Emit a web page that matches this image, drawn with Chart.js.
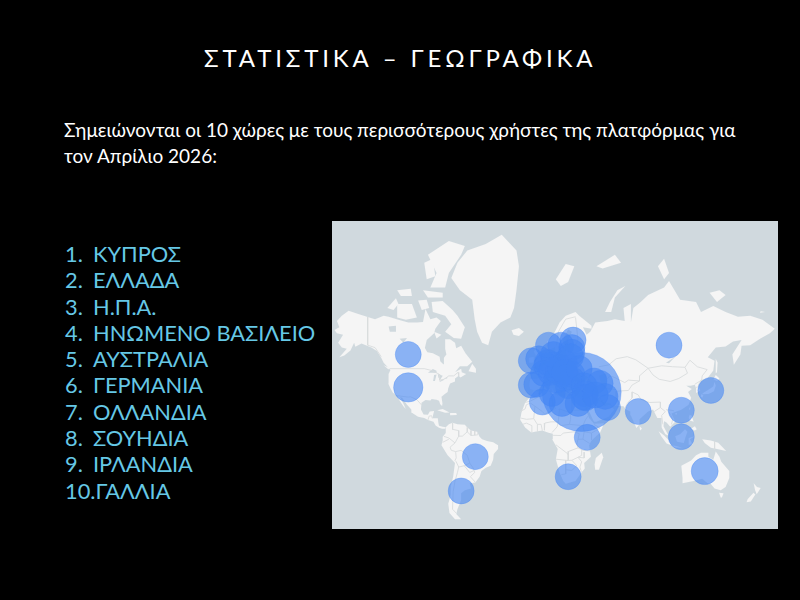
<!DOCTYPE html>
<html lang="el">
<head>
<meta charset="utf-8">
<title>Στατιστικά – Γεωγραφικά</title>
<script src="https://cdn.jsdelivr.net/npm/chart.js@4"></script>
<style>
  html, body { margin: 0; background: #000; }
  body { position: relative; width: 800px; height: 600px; overflow: hidden; font-family: Lato, "Open Sans", sans-serif; }
  #title { position: absolute; left: 204px; top: 43px; color: #fff; font-size: 24px; font-weight: 400; letter-spacing: 3.85px; line-height: 30px; white-space: nowrap; }
  #intro { position: absolute; left: 64px; top: 117px; width: 720px; color: #fff; font-size: 19px; line-height: 25.5px; white-space: nowrap; }
  #countries { position: absolute; left: 65px; top: 241px; color: #66c8e6; font-size: 21.8px; line-height: 26.3px; white-space: nowrap; }
  #countries span { display: inline-block; width: 28px; }
  #map { position: absolute; left: 332px; top: 221px; background: #d0d9de; }
</style>
</head>
<body>
<div id="title">ΣΤΑΤΙΣΤΙΚΑ – ΓΕΩΓΡΑΦΙΚΑ</div>
<div id="intro">Σημειώνονται οι 10 χώρες με τους περισσότερους χρήστες της πλατφόρμας για<br>τον Απρίλιο 2026:</div>
<div id="countries"></div>
<canvas id="map" width="446" height="308"></canvas>
<script>
const topCountries = ["ΚΥΠΡΟΣ", "ΕΛΛΑΔΑ", "Η.Π.Α.", "ΗΝΩΜΕΝΟ ΒΑΣΙΛΕΙΟ", "ΑΥΣΤΡΑΛΙΑ", "ΓΕΡΜΑΝΙΑ", "ΟΛΛΑΝΔΙΑ", "ΣΟΥΗΔΙΑ", "ΙΡΛΑΝΔΙΑ", "ΓΑΛΛΙΑ"];

// bubbles: lon, lat, size
const bubbleLon = [33, -108, -108, -53.5, -65, 104, 138, 114, 114, 79, 133, 37.5, 22, 54, -8, -8, -2, -3.5, 2, 4.5, 5.3, 10, 8, 12.5, 14, 15.5, 19, 10, 6, 16, 26, 25, 25, 24, 22, 25, 25, 21, 19, 31, 35, 43, 48, 35, 35.8, 36, 30, 1, 44, 9, 17, 52];
const bubbleLat = [35, 56, 38, -15, -39.5, 60, 36, 22, 1, 21, -26, 0.5, -30, 24, 53, 39.5, 54, 40, 46.5, 50.5, 52.2, 51, 47, 42.5, 47.5, 49.8, 52, 56, 60, 60, 62, 59, 57, 55, 39, 42.7, 45.9, 44, 47, 49, 39, 42, 40.5, 31.5, 33.8, 31, 27, 28, 33, 34, 27, 32];
const bubbleSize = [39.5, 13, 14.7, 13, 13, 13, 13, 13, 13, 13, 13.5, 13, 13, 13, 13, 13, 13, 13, 13, 13, 13, 13, 13, 13, 13, 13, 13, 13, 13, 13, 13, 13, 13, 13, 13, 13, 13, 13, 13, 13, 13, 13, 13, 13, 13, 13, 13, 13, 13, 13, 13, 13];

// coastlines [lon, lat]
const northAmerica = [[-168,65.6],[-164,66.5],[-166,68.5],[-162,70],[-156.5,71.3],[-148,70.4],[-141,69.6],[-135,69],[-128,70],[-124,69.7],[-116,68.8],[-108,68],[-101,68],[-96,68.2],[-94,71.8],[-90,69],[-85,69.5],[-81.5,68.5],[-86,66],[-87,64.5],[-93,62],[-94.5,58.8],[-92.5,57],[-88,56.5],[-82.5,55],[-82,52.8],[-79.5,51.3],[-79,54.5],[-77,56],[-78,58.5],[-78,62.3],[-74,62.3],[-70,61],[-69,58.7],[-65,59.8],[-61.5,56.5],[-56,52.5],[-60,50.2],[-66,50.2],[-70,47],[-65,49],[-64.5,47],[-61,46],[-65.5,44],[-67,45],[-70,43.5],[-70,41.7],[-74,40.5],[-75.5,37.5],[-76,35],[-78,33.8],[-81,31.8],[-80.2,27],[-80.5,25.2],[-82,26.5],[-83,29],[-85,29.7],[-89,30.2],[-90,29.2],[-94,29.5],[-97.2,27.5],[-97.7,22.5],[-95.5,18.7],[-92,18.6],[-90.5,21],[-87,21.5],[-88,17.5],[-88.5,15.8],[-84,15.8],[-83.5,12],[-83,9.8],[-80,9],[-77.5,8.7],[-78,7.5],[-80.5,7.5],[-83,8.3],[-85.8,10],[-87.5,13],[-92,14.5],[-95,16],[-100,17],[-105,20],[-105.5,22.5],[-109,26],[-113,31],[-114.7,31.5],[-112,27],[-110,23],[-112,25],[-115,29],[-117,32.5],[-120.5,34.5],[-122.5,37.5],[-124.3,40.5],[-124,46],[-122.5,48.3],[-125,50],[-128,52],[-130,54.5],[-133.5,57.5],[-138,59],[-146,60.7],[-151,59.3],[-152,61],[-155,57.8],[-160,55.5],[-164,54.7],[-158,58.5],[-162,59],[-165,61],[-161,64],[-166,64.5]];
const greenland = [[-73,78.2],[-68,80.5],[-60,82],[-45,82.7],[-32,83.6],[-20,82],[-18,80],[-20,76],[-22,72],[-25,69.5],[-33,68],[-40,65],[-43,60],[-48,61],[-52,65],[-54,69],[-56,74],[-66,76]];
const southAmerica = [[-77.5,8.7],[-75,11],[-72,12.2],[-68,11],[-62,10.7],[-60,8.5],[-57,6],[-52,5],[-50,1],[-48,-1],[-44,-2.5],[-39,-3.5],[-35,-6],[-35,-9],[-38.5,-13],[-39,-17.5],[-41,-22],[-45,-23.5],[-48.5,-26],[-50,-30],[-53.5,-34],[-58,-34.5],[-57,-38],[-62,-39],[-65,-41],[-65,-45],[-68,-50],[-69,-52.5],[-65,-55],[-70,-55],[-74.5,-52],[-75.5,-47],[-73.5,-42],[-73.5,-37],[-71.5,-30],[-70,-20],[-76,-14],[-81,-6],[-80,-2],[-80,1],[-77.5,4],[-77.5,7]];
const africa = [[-6,35.8],[-2,35],[3,36.8],[10,37.3],[11,33.5],[15,32.3],[20,31],[20,32.8],[25,31.7],[32,31],[34.2,28],[37,21],[39,16],[43,11.5],[51.2,11.8],[48,4.5],[41,-2],[39,-6],[40.5,-15],[35,-20],[35.5,-24],[32.8,-27],[28,-33],[20,-34.8],[18,-33],[15,-27],[12,-17],[13.5,-9],[9,-1],[9.5,3.5],[6,4.3],[1,6],[-4,5.2],[-8,4.5],[-13,8.5],[-17,14.7],[-16,20],[-13,27.5],[-9.5,31]];
const eurasia = [[-9,37],[-9.5,39],[-9,43],[-2,43.5],[-1,46],[-4.5,48.5],[2,51],[4,52],[8,54],[8.5,57],[10.5,57.5],[10,54.5],[14,54],[19,54.5],[21,57],[24,58],[23.5,59.3],[30,60],[23,60],[21.5,61.5],[25,65],[22,65.8],[17.5,62],[19,60],[16.5,57],[14,55.5],[12.5,56],[11,59],[6,58],[5,61.5],[10,64],[15,68],[20,70],[28,71],[31,70],[41,67],[41,66],[34,66.5],[37,64],[40,65],[44,68],[54,68.5],[60,69],[68,68.5],[67,72],[73,73],[73,68],[75,72],[81,73.5],[87,75],[100,76.5],[104,77.7],[113,74],[126,73.5],[130,71],[140,72.5],[150,71],[160,69.7],[170,70],[180,68.8],[190,66],[186,64.5],[178,62.5],[170,60],[163,59.8],[162,56],[156.7,51],[155.5,56],[163,62],[156,61.5],[150,59.5],[142,59],[135.5,54.7],[141,53],[140,48],[135,43.5],[130,42.5],[127.5,39.5],[129.5,36],[126.5,34.5],[126,37.5],[125,39.7],[121.5,39],[118,39],[122.5,37],[119.5,35],[122,31],[120,26],[114,22.3],[110,21],[106,19.5],[109,13],[105,9],[102,12.5],[100,13.5],[99.5,9.5],[103.5,2],[101,3],[98,8.5],[98,16],[94.5,16],[91,22.5],[87,21],[80,15],[80,11],[77.5,8],[73,18],[72.5,21],[69,22.5],[67,25],[57,25.5],[56.5,27],[51,28],[48,30],[51,25],[56,26],[59.5,22.5],[55,17],[45,13],[43,13],[39,21],[35,28],[34.5,31.5],[36,36.5],[30,36.3],[26.5,38.5],[26.5,40.5],[29,41],[35,42],[41.5,41.5],[37,45],[33,45],[30.5,46.5],[28,43],[26,40.7],[23,40.5],[23.5,37.8],[21.5,37],[19.5,41.5],[13,45.7],[18.5,40],[16,38],[12,42],[8,44.3],[3,43],[0,39.5],[-2,36.8],[-5.5,36]];
const australia = [[114,-22],[122,-18],[126,-14],[130,-12],[136,-12],[136,-15],[140,-17.5],[142,-11],[145,-15],[146.5,-19],[153,-26],[153,-31],[150,-37],[146,-39],[141,-38],[138,-35],[136,-35],[131,-31.5],[124,-33],[115,-34.5],[115,-31]];
const islands = [
  [[-80,73.7],[-72,71.5],[-68,70],[-62,66.5],[-65,62.5],[-71,62.8],[-78,65],[-73,67.5],[-78,70],[-88,71],[-89,73.5]],
  [[-117,73],[-105,73],[-101,69.5],[-110,68.8],[-117,69.5]],
  [[-90,76.5],[-78,76.5],[-75,79],[-65,81.5],[-62,82.5],[-75,83],[-92,81.5],[-85,79]],
  [[-125,72],[-118,74.3],[-116,73],[-120,71.5]],
  [[-96,76],[-80,75.5],[-80,74.5],[-92,74.5]],
  [[-95,80.5],[-88,81],[-86,78.5],[-93,78]],
  [[-117,76],[-106,76.3],[-105,74.8],[-114,74.8]],
  [[-100,73.8],[-93,74],[-91,72],[-97,71.5]],
  [[-87,65],[-81,64],[-85,62.6]],
  [[-59,47.6],[-53,46.8],[-53,49],[-56,51.5]],
  [[-128,50.8],[-124,48.5],[-123.5,49.5]],
  [[-84.5,22],[-80,23],[-74.5,20.3],[-78,20]],
  [[-74,19.9],[-69,19.8],[-68.5,18.3],[-74,18.2]],
  [[-24,65.5],[-18,66.3],[-14,65],[-18,63.5],[-22.5,64]],
  [[-5.5,50],[1.3,51.2],[0,53.5],[-2,56],[-3,58.5],[-6,57.5],[-3.2,54],[-5,52]],
  [[-10,52],[-6,52.2],[-6,55],[-10,54.3]],
  [[12,78],[20,80.3],[27,80],[22,77.5],[16,76.8]],
  [[52,71],[56,73.5],[62,76],[68.5,76.8],[60,74.5],[57,71]],
  [[95,80],[100,81],[104,79],[100,78]],
  [[45,80],[60,81.5],[65,80.5],[50,79.7]],
  [[137,75.5],[145,76],[150,75],[143,73.5]],
  [[178.5,71.2],[182,71],[178,70.8]],
  [[142,54],[143.5,52],[143,47],[142,46.5],[142,50]],
  [[140,43],[142,45.5],[145,43.5],[143,42]],
  [[131,34],[136,36.5],[140,38.5],[141,41.5],[142,39],[140.5,35.5],[136,33.7],[132,33.5]],
  [[130,33.5],[132,33],[131,31],[130,32]],
  [[120.2,23],[121.5,25.2],[121,22]],
  [[108.7,19.3],[110.5,20],[110,18.3]],
  [[120,16],[120.7,18.5],[122.3,18],[124,13],[121,14]],
  [[122,7.5],[125,9.5],[126.5,7],[125,6]],
  [[95.5,5.5],[100,2],[104,-2],[106,-6],[102,-4.5],[98,1]],
  [[106,-6],[110,-6.5],[114.5,-8],[108,-7.8]],
  [[109,1.5],[113,3],[117,7],[119,5],[117.5,1],[116,-4],[110.5,-3]],
  [[119.5,-5.5],[120,0],[125,1.5],[121,-1],[123,-5]],
  [[131,-1],[138,-2],[144,-3.8],[150.5,-10.5],[143,-9],[138,-8],[133,-4]],
  [[80,9.7],[82,7.5],[80.5,6]],
  [[144.7,-40.7],[148.3,-41],[147,-43.5],[146,-43.5]],
  [[172.8,-34.5],[175.5,-37],[178.5,-37.7],[175.3,-41.5],[174,-39]],
  [[172.7,-40.6],[174.2,-41.7],[170.5,-45.8],[167,-46.2],[168,-44.3]],
  [[49.3,-12],[50.5,-15.5],[47,-25],[44,-25],[43.5,-21],[44.5,-16]],
  [[12.5,38],[15.5,38.2],[15,36.7]],
  [[8.2,41],[9.7,41],[9.5,39],[8.5,39]],
  [[23.5,35.5],[26.3,35.2],[24,34.9]]
];
const waters = [
  [[-92,46.8],[-88,48.8],[-85,47.8],[-85,46.6],[-88,46.7]],
  [[-87.8,42],[-86.3,42],[-85,45.8],[-87,45.5]],
  [[-84,46],[-80,45],[-81.8,43],[-83.5,44]],
  [[-83,42],[-79,43],[-79,42.5],[-82,41.5]],
  [[-79.5,43.3],[-76,44],[-76.5,43.4]],
  [[-124,66.8],[-118,67],[-118,65],[-123,65]],
  [[-115,62.5],[-109,62.8],[-112,61]],
  [[47,45],[53,46.5],[53,41],[54,37],[50,37.3],[49,40.5]],
  [[101.5,52],[104,51.8],[110,55.5],[109,55]]
];
const borders = [
  [[-141,69.6],[-141,60],[-135,59],[-130,55]],
  [[-123,49],[-95,49],[-89,48],[-83,46],[-82.5,42.5],[-79,43],[-75,45],[-71,45],[-67.5,47],[-67,45]],
  [[-117,32.5],[-108,31.5],[-106,31.7],[-101,29.7],[-97.3,26]],
  [[-92,14.5],[-91,17.5],[-89,17.8],[-88.5,15.8]],
  [[-72,12],[-72,7],[-67,6],[-67,1.5]],
  [[-79,1.3],[-75,0],[-70,-4]],
  [[-80,-3.5],[-75,-1]],
  [[-60,5],[-64,1.5],[-67,1.5],[-70,-4],[-74,-7.5],[-73,-10],[-69.5,-11],[-65,-10],[-60,-14],[-58,-20],[-55,-24],[-54,-27],[-57.5,-30],[-53.5,-33.8]],
  [[-60,8.5],[-60,5],[-57,2],[-52,2.5],[-51.5,4.5]],
  [[-57,6],[-57,2]],
  [[-54,5.8],[-54,2.3]],
  [[-69.5,-11],[-69,-16],[-70,-18],[-69,-19],[-67,-23],[-68,-27],[-70,-33],[-71.5,-40],[-72,-50],[-69,-52]],
  [[-67,-23],[-62.5,-22],[-58,-20]],
  [[-62.5,-22],[-58,-27],[-54.5,-25.5]],
  [[-2,35],[-1.5,32],[-8.7,28.7],[-13,27.7]],
  [[-8.7,27.3],[-12,26],[-13,23],[-17,21]],
  [[-5,25],[-6,15.5],[-12,15],[-16.5,16]],
  [[-8.7,27.3],[-5,25],[1,21],[3,19],[12,23.5]],
  [[8,37],[8,33],[9,30],[10,24],[12,23.5]],
  [[25,31.7],[25,20],[24,20],[15,23],[14,22.5]],
  [[25,22],[37,22]],
  [[15,23],[14,13],[16,10],[23,11],[24,15],[24,20]],
  [[3,12],[8,13],[14,13]],
  [[3,12],[2.7,6.3]],
  [[14,13],[13,9],[9,4.5]],
  [[-3,5],[-3,11],[0,11],[1,6]],
  [[-8,4.5],[-7.5,10],[-12,12],[-15,11]],
  [[-6,15.5],[-3,11]],
  [[9,2.2],[16,2],[18,4],[27,5],[31,3.5],[30,-1],[29,-5],[30,-8],[22,-11],[22,-13],[12,-5.5]],
  [[23,11],[34,10],[36,14.5],[38.5,18]],
  [[34,10],[35,5],[41,4],[48,8],[43,11]],
  [[35,5],[34,-1],[39.5,-4.5]],
  [[41,4],[41,-1.5]],
  [[34,-1],[30,-1]],
  [[30,-8],[34,-10],[40.5,-10.5]],
  [[22,-13],[22,-18],[25,-17.8],[30,-15.5],[33,-14],[33,-9]],
  [[12,-17],[22,-18]],
  [[20,-18],[20,-28],[16.5,-28.5]],
  [[25,-17.8],[29,-22],[25,-25.5],[20,-25]],
  [[30,-15.5],[33,-19],[31.5,-23],[32.8,-26.5]],
  [[35,-11.5],[35,-16],[30,-15.5]],
  [[12.5,60],[14,65],[20,69],[28,69.7]],
  [[28,69.5],[30,62],[28,60]],
  [[47,50],[55,51],[61,54],[70,55],[77,53.5],[87,49.2]],
  [[87,49.2],[98,50.5],[107,50],[117,49.7],[119,46.5],[112,43.5],[105,41.7],[96,43],[91,45.5],[87,49.2]],
  [[117,49.7],[121,53.3],[127,50],[135,48.5],[131,45],[130.5,42.5]],
  [[87,49.2],[80,45],[80,42]],
  [[80,42],[74,39.5],[71,36],[61,35.5],[61,31.5],[63,27],[61.5,25]],
  [[52,42],[56,45],[60,44],[68,41],[71,42.5],[80,42]],
  [[53.5,37.3],[61,36.5]],
  [[74,35],[79,33],[81,30],[88,27.7],[97,28],[97,24],[92,21]],
  [[74,35],[74,31],[70,27],[68.5,23.7]],
  [[46,38],[46,33],[48.5,30]],
  [[35,29.5],[39,32],[47,29.5],[48,28.5]],
  [[97,24],[101,21],[98,18],[99,11]],
  [[102,22.5],[105,19],[107,15],[106,11]],
  [[102,22.5],[108,21.6]],
  [[125,40],[130.5,42.5]],
  [[126,38],[128.5,38.5]],
  [[141,-2.6],[141,-9]]
];

document.getElementById("countries").innerHTML = topCountries.map((c, i) =>
  i < 9 ? `<div><span>${i + 1}.</span>${c}</div>` : `<div>${i + 1}.${c}</div>`).join("");

// the map is mercator, so latitudes go onto the linear y scale through this
const merc = (lat) => (180 / Math.PI) * Math.log(Math.tan(Math.PI / 4 + lat * Math.PI / 360));
const toPoints = (shape) => shape.map(p => ({ x: p[0], y: merc(p[1]) }));

const landSet = (shape) => ({
  type: "line", data: toPoints(shape), order: 3,
  borderWidth: 0, pointRadius: 0, fill: "shape", backgroundColor: "#f5f5f5",
});
const waterSet = (shape) => ({
  type: "line", data: toPoints(shape), order: 2,
  borderWidth: 0, pointRadius: 0, fill: "shape", backgroundColor: "#d0d9de",
});
const borderSet = (line) => ({
  type: "line", data: toPoints(line), order: 1,
  borderWidth: 0.9, borderColor: "#d9dcde", pointRadius: 0, fill: false,
});

new Chart(document.getElementById("map"), {
  type: "bubble",
  data: {
    datasets: [
      {
        data: bubbleLon.map((lon, i) => ({ x: lon, y: merc(bubbleLat[i]), r: bubbleSize[i] })),
        order: 0,
        backgroundColor: "rgba(66,133,244,0.6)",
        borderColor: "rgba(66,133,244,0.3)",
        borderWidth: 1,
      },
      ...borders.map(borderSet),
      ...waters.map(waterSet),
      ...[northAmerica, greenland, southAmerica, africa, eurasia, australia, ...islands].map(landSet),
    ],
  },
  options: {
    responsive: false, animation: false, events: [],
    layout: { autoPadding: false },
    plugins: { legend: { display: false }, tooltip: { enabled: false } },
    scales: {
      x: { type: "linear", display: false, min: -170, max: 192.6 },
      y: { type: "linear", display: false, min: -74, max: 176.4 },
    },
  },
});
</script>
</body>
</html>
